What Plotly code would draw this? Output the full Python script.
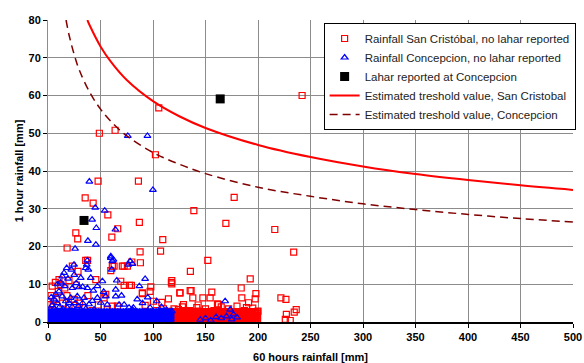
import plotly.graph_objects as go

# ---------------- data ----------------
# Rainfall San Cristobal, no lahar reported (scattered points)
red_x = [105.5, 48.9, 63.9, 102.3, 47.7, 86.1, 138.9, 35.4, 43.0, 57.0, 87.0, 66.4, 60.8, 109.3,
         26.5, 28.3, 18.2, 87.7, 107.2, 135.6, 37.7, 88.0, 79.8, 61.3, 70.8, 125.5, 117.5, 136.3,
         77.5, 89.9, 177.3, 169.4, 152.2, 242.0, 216.0, 234.0,
         192.6, 184.0, 198.0, 197.3, 221.8, 226.6, 236.4, 234.5, 227.0, 226.0, 230.7, 162.4, 184.6,
         191.0, 189.0,
         117.9, 117.9, 97.9, 97.2, 89.9, 125.8, 135.4, 137.9, 156.0, 154.4, 147.5, 161.4, 114.7,
         108.4, 129.0, 141.7, 124.2, 100.4, 92.5,
         35.9, 23.2, 28.6, 10.5, 12.1, 9.8, 45.5, 62.9, 59.8, 72.5, 75.6, 69.3, 72.5, 79.4, 53.4,
         55.0, 61.3, 66.1, 56.5, 74.1, 34.3, 2.6, 5.7, 0.0,
         3.0, 5.0, 8.0, 14.0, 18.0, 20.0, 25.0, 30.0, 38.0, 42.0, 48.0, 50.0, 4.0, 7.0, 16.0, 20.0,
         27.0,
         120.0, 128.0, 135.0, 143.0, 150.0, 158.0, 165.0, 172.0, 180.0, 187.0, 195.0, 200.0, 103.0,
         110.0, 115.0, 98.0, 105.0, 112.0]
red_y = [56.7, 50.0, 50.8, 44.3, 37.3, 37.3, 29.5, 32.9, 31.5, 28.4, 26.4, 24.7, 22.5, 21.8,
         23.6, 22.0, 19.6, 18.6, 18.8, 13.4, 16.3, 15.7, 15.9, 14.8, 14.8, 7.7, 10.5, 8.3,
         9.7, 7.7, 33.0, 26.1, 16.3, 60.0, 24.5, 18.5,
         11.4, 9.0, 7.5, 6.1, 6.4, 6.0, 3.3, 2.6, 2.0, 0.7, 0.4, 4.6, 6.4,
         5.1, 3.8,
         11.0, 10.1, 9.3, 8.1, 7.5, 7.7, 8.3, 6.4, 7.9, 6.4, 6.4, 4.8, 6.1,
         5.2, 4.6, 3.8, 3.3, 5.5, 4.4,
         16.3, 14.8, 13.4, 11.2, 9.9, 8.1, 11.2, 14.8, 13.6, 14.8, 14.8, 10.8, 9.7, 9.7, 6.4,
         7.3, 4.2, 4.2, 3.3, 1.5, 3.8, 4.6, 2.9, 2.0,
         7.0, 5.5, 6.0, 5.0, 7.0, 4.5, 6.0, 5.0, 7.0, 3.0, 4.5, 2.5, 9.5, 10.5, 9.0, 11.0,
         9.8,
         3.5, 4.0, 3.0, 4.5, 3.5, 3.0, 4.0, 3.5, 4.2, 3.0, 3.7, 2.9, 3.0,
         3.5, 2.8, 2.0, 1.5, 2.5]
# dense band of San Cristobal points near the x axis
red_band_x = [117, 118.5, 120, 121.5, 123, 124.5, 126, 127.5, 129, 130.5, 132, 133.5, 135,
              136.5, 138, 139.5, 141, 142.5, 144, 145.5, 147, 148.5, 150, 151.5, 153, 154.5,
              156, 157.5, 159, 160.5, 162, 163.5, 165, 166.5, 168, 169.5, 171, 172.5, 174,
              175.5, 177, 178.5, 180, 181.5, 183, 184.5, 186, 187.5, 189, 190.5, 192, 193.5,
              195, 196.5, 198, 199.5]
red_band_y = [0.2, 0.7, 1.2, 1.7, 2.2, 2.7]

# Rainfall Concepcion, no lahar reported (scattered points)
blue_x = [76.0, 94.7, 39.4, 99.9, 45.0, 54.0, 42.0, 46.0, 64.2, 38.0, 45.6, 25.8, 59.8, 62.3,
          78.2, 76.6, 60.7, 36.9, 38.4, 92.5, 87.0,
          59.8, 61.3, 80.4, 35.9, 37.5, 24.8, 22.2, 17.8, 15.3, 13.6, 31.2, 40.7, 51.8, 65.5,
          64.5, 64.5, 55.0, 43.2, 37.5, 29.6, 23.2, 15.9, 10.5, 7.3, 5.7, 13.6, 21.6, 27.9, 34.3,
          47.0, 42.2, 39.1, 50.2, 56.5, 67.7, 72.5, 77.2, 80.4, 43.9, 31.2, 18.4,
          103.6, 97.2, 81.3, 168.7, 173.5, 176.6, 175.0, 170.0, 180.0, 165.0, 150.0, 145.0, 155.0,
          160.0,
          2.0, 4.0, 6.0, 9.0, 11.0, 14.0, 17.0, 20.0, 23.0, 26.0, 29.0, 33.0, 36.0, 12.0, 19.0,
          25.0, 9.0, 3.0, 27.0, 33.0, 47.0, 53.0, 70.0, 85.0, 90.0, 95.0, 108.0, 113.0, 118.0]
blue_y = [49.3, 49.3, 37.2, 35.0, 30.3, 29.5, 27.1, 24.9, 24.5, 21.5, 20.5, 19.4, 17.4, 16.5,
          16.1, 15.2, 13.9, 15.2, 13.9, 11.4, 9.5,
          17.0, 16.1, 15.4, 14.3, 16.3, 15.2, 13.9, 14.3, 13.0, 12.1, 11.7, 11.7, 10.8, 11.0,
          8.6, 6.8, 6.8, 8.3, 9.0, 9.2, 9.0, 9.5, 8.1, 7.3, 6.0, 6.8, 6.4, 6.8, 6.4,
          6.4, 5.6, 4.7, 5.1, 4.6, 4.6, 4.6, 3.8, 3.3, 3.3, 3.3, 3.8,
          5.5, 3.8, 3.8, 5.5, 3.3, 2.0, 0.7, 1.5, 1.2, 1.0, 1.0, 0.6, 0.4,
          1.3,
          3.5, 4.5, 3.5, 5.0, 4.0, 3.5, 5.5, 5.0, 4.0, 5.0, 4.2, 5.0, 3.5, 10.5, 11.5,
          12.5, 10.0, 6.5, 10.3, 9.3, 9.5, 8.0, 7.0, 6.0, 5.0, 6.5, 4.0, 3.2, 2.9]
# dense band of Concepcion points near the x axis
blue_band_x = [0, 1.5, 3, 4.5, 6, 7.5, 9, 10.5, 12, 13.5, 15, 16.5, 18, 19.5, 21, 22.5, 24,
               25.5, 27, 28.5, 30, 31.5, 33, 34.5, 36, 37.5, 39, 40.5, 42, 43.5, 45, 46.5, 48,
               49.5, 51, 52.5, 54, 55.5, 57, 58.5, 60, 61.5, 63, 64.5, 66, 67.5, 69, 70.5, 72,
               73.5, 75, 76.5, 78, 79.5, 81, 82.5, 84, 85.5, 87, 88.5, 90, 91.5, 93, 94.5, 96,
               97.5, 99, 100.5, 102, 103.5, 105, 106.5, 108, 109.5, 111, 112.5, 114, 115.5, 117]
blue_band_y = [0.2, 0.7, 1.2, 1.7, 2.2, 2.7]

# Lahar reported at Concepcion
lahar_x = [34.3, 164.0]
lahar_y = [26.9, 59.1]

# Estimated threshold curves
sc_x = [37.5, 40, 50, 60, 75, 100, 125, 150, 200, 250, 300, 350, 400, 450, 500]
sc_y = [80.0, 78.4, 73.0, 68.9, 64.1, 58.5, 54.5, 51.4, 46.9, 43.7, 41.2, 39.2, 37.6, 36.2, 35.0]
co_x = [17.2, 20, 25, 30, 40, 50, 60, 75, 100, 125, 150, 200, 250, 300, 350, 400, 450, 500]
co_y = [80.0, 76.1, 70.8, 66.6, 60.7, 56.4, 53.1, 49.3, 44.9, 41.8, 39.3, 35.7, 33.3, 31.3,
        29.8, 28.5, 27.4, 26.5]

x_ticks = [0, 50, 100, 150, 200, 250, 300, 350, 400, 450, 500]
y_ticks = [0, 10, 20, 30, 40, 50, 60, 70, 80]

# ---------------- build full point sets ----------------
red_all_x = list(red_x)
red_all_y = list(red_y)
for yy in red_band_y:
    red_all_x += red_band_x
    red_all_y += [yy] * len(red_band_x)

blue_all_x = list(blue_x)
blue_all_y = list(blue_y)
for yy in blue_band_y:
    blue_all_x += blue_band_x
    blue_all_y += [yy] * len(blue_band_x)

FONT = "Arial, 'Liberation Sans', Helvetica, sans-serif"

fig = go.Figure()
fig.add_trace(go.Scatter(
    x=red_all_x, y=red_all_y, mode="markers",
    name="Rainfall San Cristóbal, no lahar reported",
    marker=dict(symbol="square-open", size=6, color="#ff0000", line=dict(width=1.2, color="#ff0000")),
))
fig.add_trace(go.Scatter(
    x=blue_all_x, y=blue_all_y, mode="markers",
    name="Rainfall Concepcion, no lahar reported",
    marker=dict(symbol="triangle-up-open", size=6, color="#0000ff", line=dict(width=1.2, color="#0000ff")),
))
fig.add_trace(go.Scatter(
    x=lahar_x, y=lahar_y, mode="markers",
    name="Lahar reported at Concepcion",
    marker=dict(symbol="square", size=9, color="#000000"),
))
fig.add_trace(go.Scatter(
    x=sc_x, y=sc_y, mode="lines", line_shape="spline",
    name="Estimated treshold value, San Cristobal",
    line=dict(color="#ff0000", width=2),
))
fig.add_trace(go.Scatter(
    x=co_x, y=co_y, mode="lines", line_shape="spline",
    name="Estimated treshold value, Concepcion",
    line=dict(color="#800000", width=1.5, dash="8px,5px"),
))

fig.update_layout(
    width=584, height=363, autosize=False,
    margin=dict(l=48, r=11, t=20, b=41, autoexpand=False),
    paper_bgcolor="white", plot_bgcolor="white",
    font=dict(family=FONT, size=11, color="black"),
    showlegend=True,
    legend=dict(
        x=0.525, y=0.99, xanchor="left", yanchor="top",
        bgcolor="white", bordercolor="black", borderwidth=1,
        font=dict(family=FONT, size=11.5, color="#222222"),
        itemwidth=30,
    ),
)
fig.update_xaxes(
    range=[0, 500], tickvals=x_ticks, ticktext=[str(v) for v in x_ticks],
    automargin=False,
    showgrid=True, gridcolor="#8c8c8c", gridwidth=1,
    showline=True, linecolor="black", linewidth=2,
    ticks="outside", ticklen=4, tickcolor="black",
    tickfont=dict(family=FONT, size=11, color="black", weight="bold"),
    title=dict(text="60 hours rainfall [mm]", standoff=11,
               font=dict(family=FONT, size=11, color="black", weight="bold")),
    zeroline=False,
)
fig.update_yaxes(
    range=[0, 80], tickvals=y_ticks, ticktext=[str(v) for v in y_ticks],
    automargin=False,
    showgrid=True, gridcolor="#8c8c8c", gridwidth=1,
    showline=True, linecolor="#8c8c8c", linewidth=1,
    ticks="outside", ticklen=4, tickcolor="black",
    tickfont=dict(family=FONT, size=11, color="black", weight="bold"),
    title=dict(text="1 hour rainfall [mm]", standoff=2,
               font=dict(family=FONT, size=11, color="black", weight="bold")),
    zeroline=False,
)

fig.write_html(
    "out.html",
    config={"displayModeBar": False, "responsive": False},
    post_script="document.body.style.margin='0';document.body.style.overflow='hidden';",
)
